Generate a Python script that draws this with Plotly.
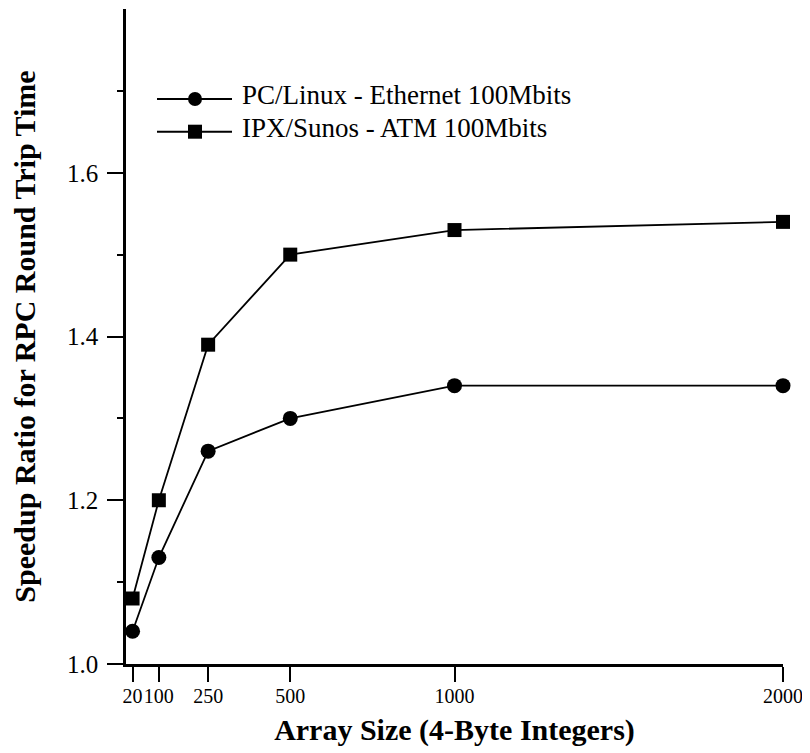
import plotly.graph_objects as go

array_sizes = [20, 100, 250, 500, 1000, 2000]
pc_linux = [1.04, 1.13, 1.26, 1.30, 1.34, 1.34]
ipx_sunos = [1.08, 1.20, 1.39, 1.50, 1.53, 1.54]
series_names = ["PC/Linux - Ethernet 100Mbits", "IPX/Sunos - ATM 100Mbits"]
x_ticks = [20, 100, 250, 500, 1000, 2000]
y_ticks = [1.0, 1.2, 1.4, 1.6]
y_minor = [1.1, 1.3, 1.5, 1.7]

FONT = "Liberation Serif"

# figure geometry (page places the figure 8px in from the top-left)
W, H = 810, 753
L, R, T, B = 118, 35, 1, 97
PW, PH = W - L - R, H - T - B


def px(xp):
    return (xp - L) / PW


def py(yp):
    return (H - B - yp) / PH


fig = go.Figure()
fig.add_trace(go.Scatter(
    x=array_sizes, y=pc_linux, name=series_names[0], mode="lines+markers",
    line=dict(color="black", width=1.8),
    marker=dict(symbol="circle", size=15, color="black"),
    cliponaxis=False,
))
fig.add_trace(go.Scatter(
    x=array_sizes, y=ipx_sunos, name=series_names[1], mode="lines+markers",
    line=dict(color="black", width=1.8),
    marker=dict(symbol="square", size=14, color="black"),
    cliponaxis=False,
))

# hand-drawn legend (line + marker + label)
leg_rows = [91, 123.7]
leg_x0, leg_x1, leg_mx, leg_tx = 149, 224, 187, 232
shapes = []
annotations = []
for i, (yy, name) in enumerate(zip(leg_rows, series_names)):
    shapes.append(dict(type="line", xref="paper", yref="paper",
                       x0=px(leg_x0), x1=px(leg_x1), y0=py(yy), y1=py(yy),
                       line=dict(color="black", width=2)))
    half = 7
    shapes.append(dict(type="circle" if i == 0 else "rect",
                       xref="paper", yref="paper",
                       xsizemode="pixel", ysizemode="pixel",
                       xanchor=px(leg_mx), yanchor=py(yy),
                       x0=-half, x1=half, y0=-half, y1=half,
                       fillcolor="black", line=dict(color="black", width=0)))
    annotations.append(dict(text=name, xref="paper", yref="paper",
                            x=px(leg_tx), y=py(yy - 4), xanchor="left", yanchor="middle",
                            showarrow=False,
                            font=dict(family=FONT, size=27, color="black")))

fig.update_layout(
    width=W, height=H,
    margin=dict(l=L, r=R, t=T, b=B, autoexpand=False),
    paper_bgcolor="white", plot_bgcolor="white",
    font=dict(family=FONT, color="black"),
    showlegend=False,
    shapes=shapes,
    annotations=annotations,
    xaxis=dict(
        range=[0, 2000], tickmode="array", tickvals=x_ticks,
        ticktext=[str(v) for v in x_ticks], tickangle=0, automargin=False,
        showline=True, linecolor="black", linewidth=2.5,
        ticks="outside", ticklen=15, tickwidth=2, tickcolor="black",
        tickfont=dict(family=FONT, size=20, color="black"),
        ticklabelstandoff=-3,
        showgrid=False, zeroline=False,
        title=dict(text="<b>Array Size (4-Byte Integers)</b>",
                   font=dict(family=FONT, size=30, color="black"), standoff=14),
    ),
    yaxis=dict(
        range=[1.0, 1.8], tickmode="array", tickvals=y_ticks,
        ticktext=["%.1f" % v for v in y_ticks], automargin=False,
        showline=True, linecolor="black", linewidth=2.5,
        ticks="outside", ticklen=16, tickwidth=2, tickcolor="black",
        tickfont=dict(family=FONT, size=25, color="black"),
        ticklabelstandoff=4,
        minor=dict(tickvals=y_minor, ticks="outside", ticklen=6, tickwidth=2, tickcolor="black"),
        showgrid=False, zeroline=False,
        title=dict(text="<b>Speedup Ratio for RPC Round Trip Time</b>",
                   font=dict(family=FONT, size=30, color="black"), standoff=25),
    ),
)

fig.write_html("out.html")
